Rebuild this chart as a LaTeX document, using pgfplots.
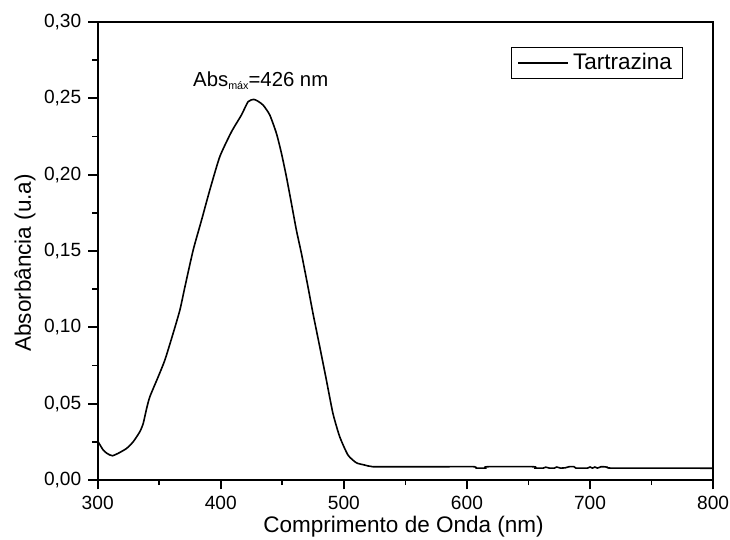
\documentclass[border=0pt]{standalone}
\usepackage{pgfplots}
\pgfplotsset{compat=1.18}
\usepackage{fontspec}
\setmainfont{Liberation Sans}
\begin{document}
\begin{tikzpicture}
\useasboundingbox (-48.85bp,-30bp) rectangle (316.15bp,240bp);
\begin{axis}[
  at={(0,0)}, anchor=south west,
  scale only axis,
  width=307.7bp, height=229bp,
  xmin=300, xmax=800, ymin=0, ymax=0.30,
  xtick={300,400,...,800},
  ytick={0,0.05,...,0.31},
  minor x tick num=1,
  minor y tick num=1,
  tick align=outside,
  xtick pos=bottom, ytick pos=left,
  major tick length=4.7bp,
  minor tick length=2.6bp,
  every tick/.style={black, line width=0.9bp},
  axis line style={line width=1bp},
  /pgf/number format/assume math mode=true,
  yticklabel style={/pgf/number format/.cd, fixed, fixed zerofill, precision=2, use comma},
  xticklabel style={/pgf/number format/.cd, set thousands separator={}},
  ticklabel style={font=\fontsize{9.6}{11}\selectfont},
  xlabel={Comprimento de Onda (nm)},
  ylabel={Absorbância (u.a)},
  label style={font=\fontsize{11.3}{13}\selectfont},
  xlabel style={at={(axis description cs:0.497,-0.1026)}, anchor=center},
  ylabel style={at={(axis description cs:-0.118,0.474)}, anchor=center},
  legend style={at={(rel axis cs:0.951,0.945)}, anchor=north east,
    draw=black, line width=0.6bp, inner xsep=3.2bp, inner ysep=0.8bp, row sep=0pt,
    font=\fontsize{11.3}{12}\selectfont, cells={anchor=west}},
  legend image code/.code={\draw[black, line width=0.7bp] (0bp,0bp) -- (25bp,0bp);},
  legend cell align=left,
]
\addplot[black, line width=0.8bp, smooth, tension=0.35] coordinates {
(300,0.0255) (304.5,0.0196) (308,0.0172) (311.9,0.0159) (316.7,0.0175)
(323.5,0.0207) (328.9,0.0251) (334.3,0.0317) (337,0.0371) (339.8,0.0470)
(342.4,0.0546) (349.2,0.0677) (354.6,0.0786) (361.3,0.0961) (366.8,0.1114)
(371,0.1270) (377.6,0.1507) (384.4,0.1703) (391.1,0.1900) (399.2,0.2118)
(408.7,0.2281) (416.8,0.2391) (422.2,0.2478) (426.8,0.2493) (430,0.2482)
(434.4,0.2456) (439.8,0.2391) (445.2,0.2271) (449.3,0.2140) (453.3,0.1987)
(457.4,0.1812) (461.4,0.1638) (465.5,0.1485) (470.5,0.1280) (474.9,0.1092)
(480.4,0.0873) (485.8,0.0655) (491.1,0.0437) (496.6,0.0284) (503.3,0.0164)
(510.1,0.0113) (516.9,0.0098) (523.6,0.0087) (545,0.0087) (580,0.0087)
(606,0.0087) (607.5,0.0078) (615,0.0078) (616.5,0.0087) (654,0.0087)
(655.5,0.0078) (662,0.0078) (664,0.0084) (667,0.0078) (671,0.0078)
(673,0.0085) (676,0.0078) (680,0.0080) (683,0.0087) (687,0.0087)
(688.5,0.0078) (698,0.0078) (700,0.0085) (702,0.0078) (704,0.0085)
(706,0.0078) (709,0.0087) (711,0.0087) (714,0.0084) (717,0.0078)
(760,0.0078) (800,0.0077)
};
\addlegendentry{Tartrazina}
\node[anchor=base west, inner sep=0pt, font=\fontsize{10.2}{12}\selectfont]
  at (axis cs:377.3,0.2576) {Abs\raisebox{-1.3bp}{\fontsize{5.4}{6}\selectfont máx}=426 nm};
\end{axis}
\end{tikzpicture}
\end{document}
